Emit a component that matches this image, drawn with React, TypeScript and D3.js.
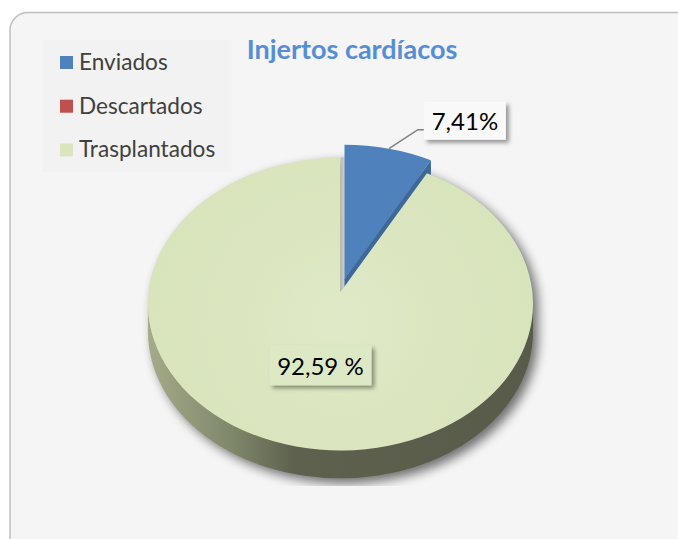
import React from 'react'
import * as d3 from 'd3'

// chart data
const categories = ['Enviados', 'Descartados', 'Trasplantados']
const values = [7.41, 0, 92.59]
const labelTexts = ['7,41%', '', '92,59 %']
const title = 'Injertos cardíacos'

const colors = ['#4f81bd', '#c0504d', '#d9e5bd']
const W = 678
const H = 539

// 3d pie geometry
const cx = 340.5
const cy = 304
const rx = 192.5
const ry = 146.4
const depth = 28
const apexLift = 12
const explode = 0.09
const plotBottom = 486

type Pt = [number, number]

const rim = (a: number, o: Pt = [0, 0]): Pt => [cx + rx * Math.sin(a) + o[0], cy - ry * Math.cos(a) + o[1]]
const apex = (o: Pt = [0, 0]): Pt => [cx + o[0], cy - apexLift + o[1]]
const down = (p: Pt, d = depth): Pt => [p[0], p[1] + d]

const topPath = (a0: number, a1: number, o: Pt) => {
  const p = d3.path()
  const c = apex(o)
  const s = rim(a0, o)
  const e = rim(a1, o)
  p.moveTo(c[0], c[1])
  p.lineTo(s[0], s[1])
  const large = a1 - a0 > Math.PI ? 1 : 0
  return p.toString() + `A${rx},${ry} 0 ${large} 1 ${e[0]},${e[1]}Z`
}

const wallPath = (a0: number, a1: number, o: Pt) => {
  const s0 = Math.max(a0, Math.PI / 2)
  const e0 = Math.min(a1, Math.PI * 1.5)
  if (e0 <= s0) return null
  const s = rim(s0, o)
  const e = rim(e0, o)
  const sd = down(s)
  const ed = down(e)
  return `M${s[0]},${s[1]}A${rx},${ry} 0 0 1 ${e[0]},${e[1]}L${ed[0]},${ed[1]}A${rx},${ry} 0 0 0 ${sd[0]},${sd[1]}Z`
}

const quad = (pts: Pt[]) => 'M' + pts.map(p => p.join(',')).join('L') + 'Z'

export default function App() {
  const pie = d3.pie<number>().sort(null).startAngle(0).endAngle(2 * Math.PI)
  const arcs = pie(values)

  const offsetOf = (i: number): Pt => {
    if (i !== 0) return [0, 0]
    const mid = (arcs[i].startAngle + arcs[i].endAngle) / 2
    return [explode * rx * Math.sin(mid), -explode * ry * Math.cos(mid)]
  }

  const blue = arcs[0]
  const green = arcs[2]
  const bo = offsetOf(0)

  // label of the small slice, outside with a leader
  const bMid = (blue.startAngle + blue.endAngle) / 2
  const lStart = rim(bMid, bo)
  const elbow: Pt = [lStart[0] + 29, lStart[1] - 19]
  const bBox = { x: elbow[0] + 6, y: elbow[1] - 28, w: 82, h: 38 }

  // label of the big slice, inside
  const gMid = (green.startAngle + green.endAngle) / 2
  const gc = rim(gMid)
  const gl: Pt = [cx + (gc[0] - cx) * 0.43, cy + (gc[1] - cy) * 0.43]
  const gBox = { x: gl[0] - 52, y: gl[1] - 20, w: 102, h: 40 }

  const font = 'Lato, "Open Sans", sans-serif'

  return (
    <svg width={W} height={H} style={{ position: 'absolute', left: 0, top: 0 }} fontFamily={font}>
      <defs>
        <linearGradient id="wallGrad" gradientUnits="userSpaceOnUse" x1={cx - rx} x2={cx + rx} y1={0} y2={0}>
          <stop offset="0" stopColor="#a3ab8a" />
          <stop offset="0.22" stopColor="#7f876a" />
          <stop offset="0.38" stopColor="#5d614e" />
          <stop offset="1" stopColor="#585b49" />
        </linearGradient>
        <radialGradient id="topGrad" gradientUnits="userSpaceOnUse" cx={cx} cy={cy + 20} r={rx}>
          <stop offset="0" stopColor="#dfe9c7" />
          <stop offset="1" stopColor="#d8e4bb" />
        </radialGradient>
        <linearGradient id="sliver" x1="0" x2="1" y1="0" y2="0">
          <stop offset="0" stopColor="#b5b5b5" />
          <stop offset="1" stopColor="#d6d6d6" />
        </linearGradient>
        <filter id="pieShadow" x="-20%" y="-20%" width="140%" height="140%">
          <feGaussianBlur stdDeviation="5.5" />
        </filter>
        <filter id="boxShadow" x="-20%" y="-30%" width="150%" height="170%">
          <feDropShadow dx="3" dy="3" stdDeviation="2.2" floodColor="#000" floodOpacity="0.4" />
        </filter>
        <clipPath id="plotClip">
          <rect x={0} y={0} width={W} height={plotBottom} />
        </clipPath>
      </defs>

      <rect x={10} y={12.5} width={W + 20} height={H + 20} rx={18} fill="#f5f5f5" stroke="#bfbfbf" strokeWidth={1.5} />

      {/* legend */}
      <rect x={42.5} y={40} width={189} height={132} fill="#f2f2f2" />
      {categories.map((c, i) => (
        <g key={c} transform={`translate(60,${56 + i * 43.7})`}>
          <rect width={13} height={13} fill={colors[i]} />
          <text x={19} y={14} fontSize={22.6} fill="#404040">{c}</text>
        </g>
      ))}

      <text x={352} y={59.3} textAnchor="middle" fontSize={27} fontWeight="bold" fill="#558ed5">{title}</text>

      {/* shadow under the pie */}
      <g clipPath="url(#plotClip)">
        <g filter="url(#pieShadow)" opacity={0.55} transform="translate(5,5)">
          <ellipse cx={cx} cy={cy} rx={rx} ry={ry} fill="#000" />
          <ellipse cx={cx} cy={cy + depth} rx={rx} ry={ry} fill="#000" />
          <rect x={cx - rx} y={cy} width={2 * rx} height={depth} fill="#000" />
        </g>
      </g>

      {/* side wall of the big slice */}
      {wallPath(green.startAngle, green.endAngle, [0, 0]) && (
        <path d={wallPath(green.startAngle, green.endAngle, [0, 0]) as string} fill="url(#wallGrad)" />
      )}

      {/* cut face seen in the gap */}
      <path
        d={quad([apex(), rim(green.endAngle), [rim(green.endAngle)[0] + bo[0] + 1, rim(green.endAngle)[1]], [apex()[0] + bo[0] + 1, apex()[1]]])}
        fill="url(#sliver)"
      />

      {/* cut face of the exploded slice */}
      <path
        d={quad([apex(bo), rim(blue.endAngle, bo), down(rim(blue.endAngle, bo)), down(apex(bo))])}
        fill="#3d6898"
      />

      <path d={topPath(green.startAngle, green.endAngle, [0, 0])} fill="url(#topGrad)" />
      <path d={topPath(blue.startAngle, blue.endAngle, bo)} fill={colors[0]} />

      {/* data labels */}
      <polyline
        points={[lStart, elbow, [bBox.x, elbow[1]]].map(p => p.join(',')).join(' ')}
        fill="none"
        stroke="#7f7f7f"
        strokeWidth={1.5}
      />
      <rect x={bBox.x} y={bBox.y} width={bBox.w} height={bBox.h} fill="#f9f9f9" filter="url(#boxShadow)" />
      <text x={bBox.x + bBox.w / 2} y={bBox.y + 28} textAnchor="middle" fontSize={24} fill="#000">{labelTexts[0]}</text>

      <rect x={gBox.x} y={gBox.y} width={gBox.w} height={gBox.h} fill="#dde8c4" filter="url(#boxShadow)" />
      <text x={gBox.x + gBox.w / 2} y={gBox.y + 30} textAnchor="middle" fontSize={24} fill="#000">{labelTexts[2]}</text>
    </svg>
  )
}
